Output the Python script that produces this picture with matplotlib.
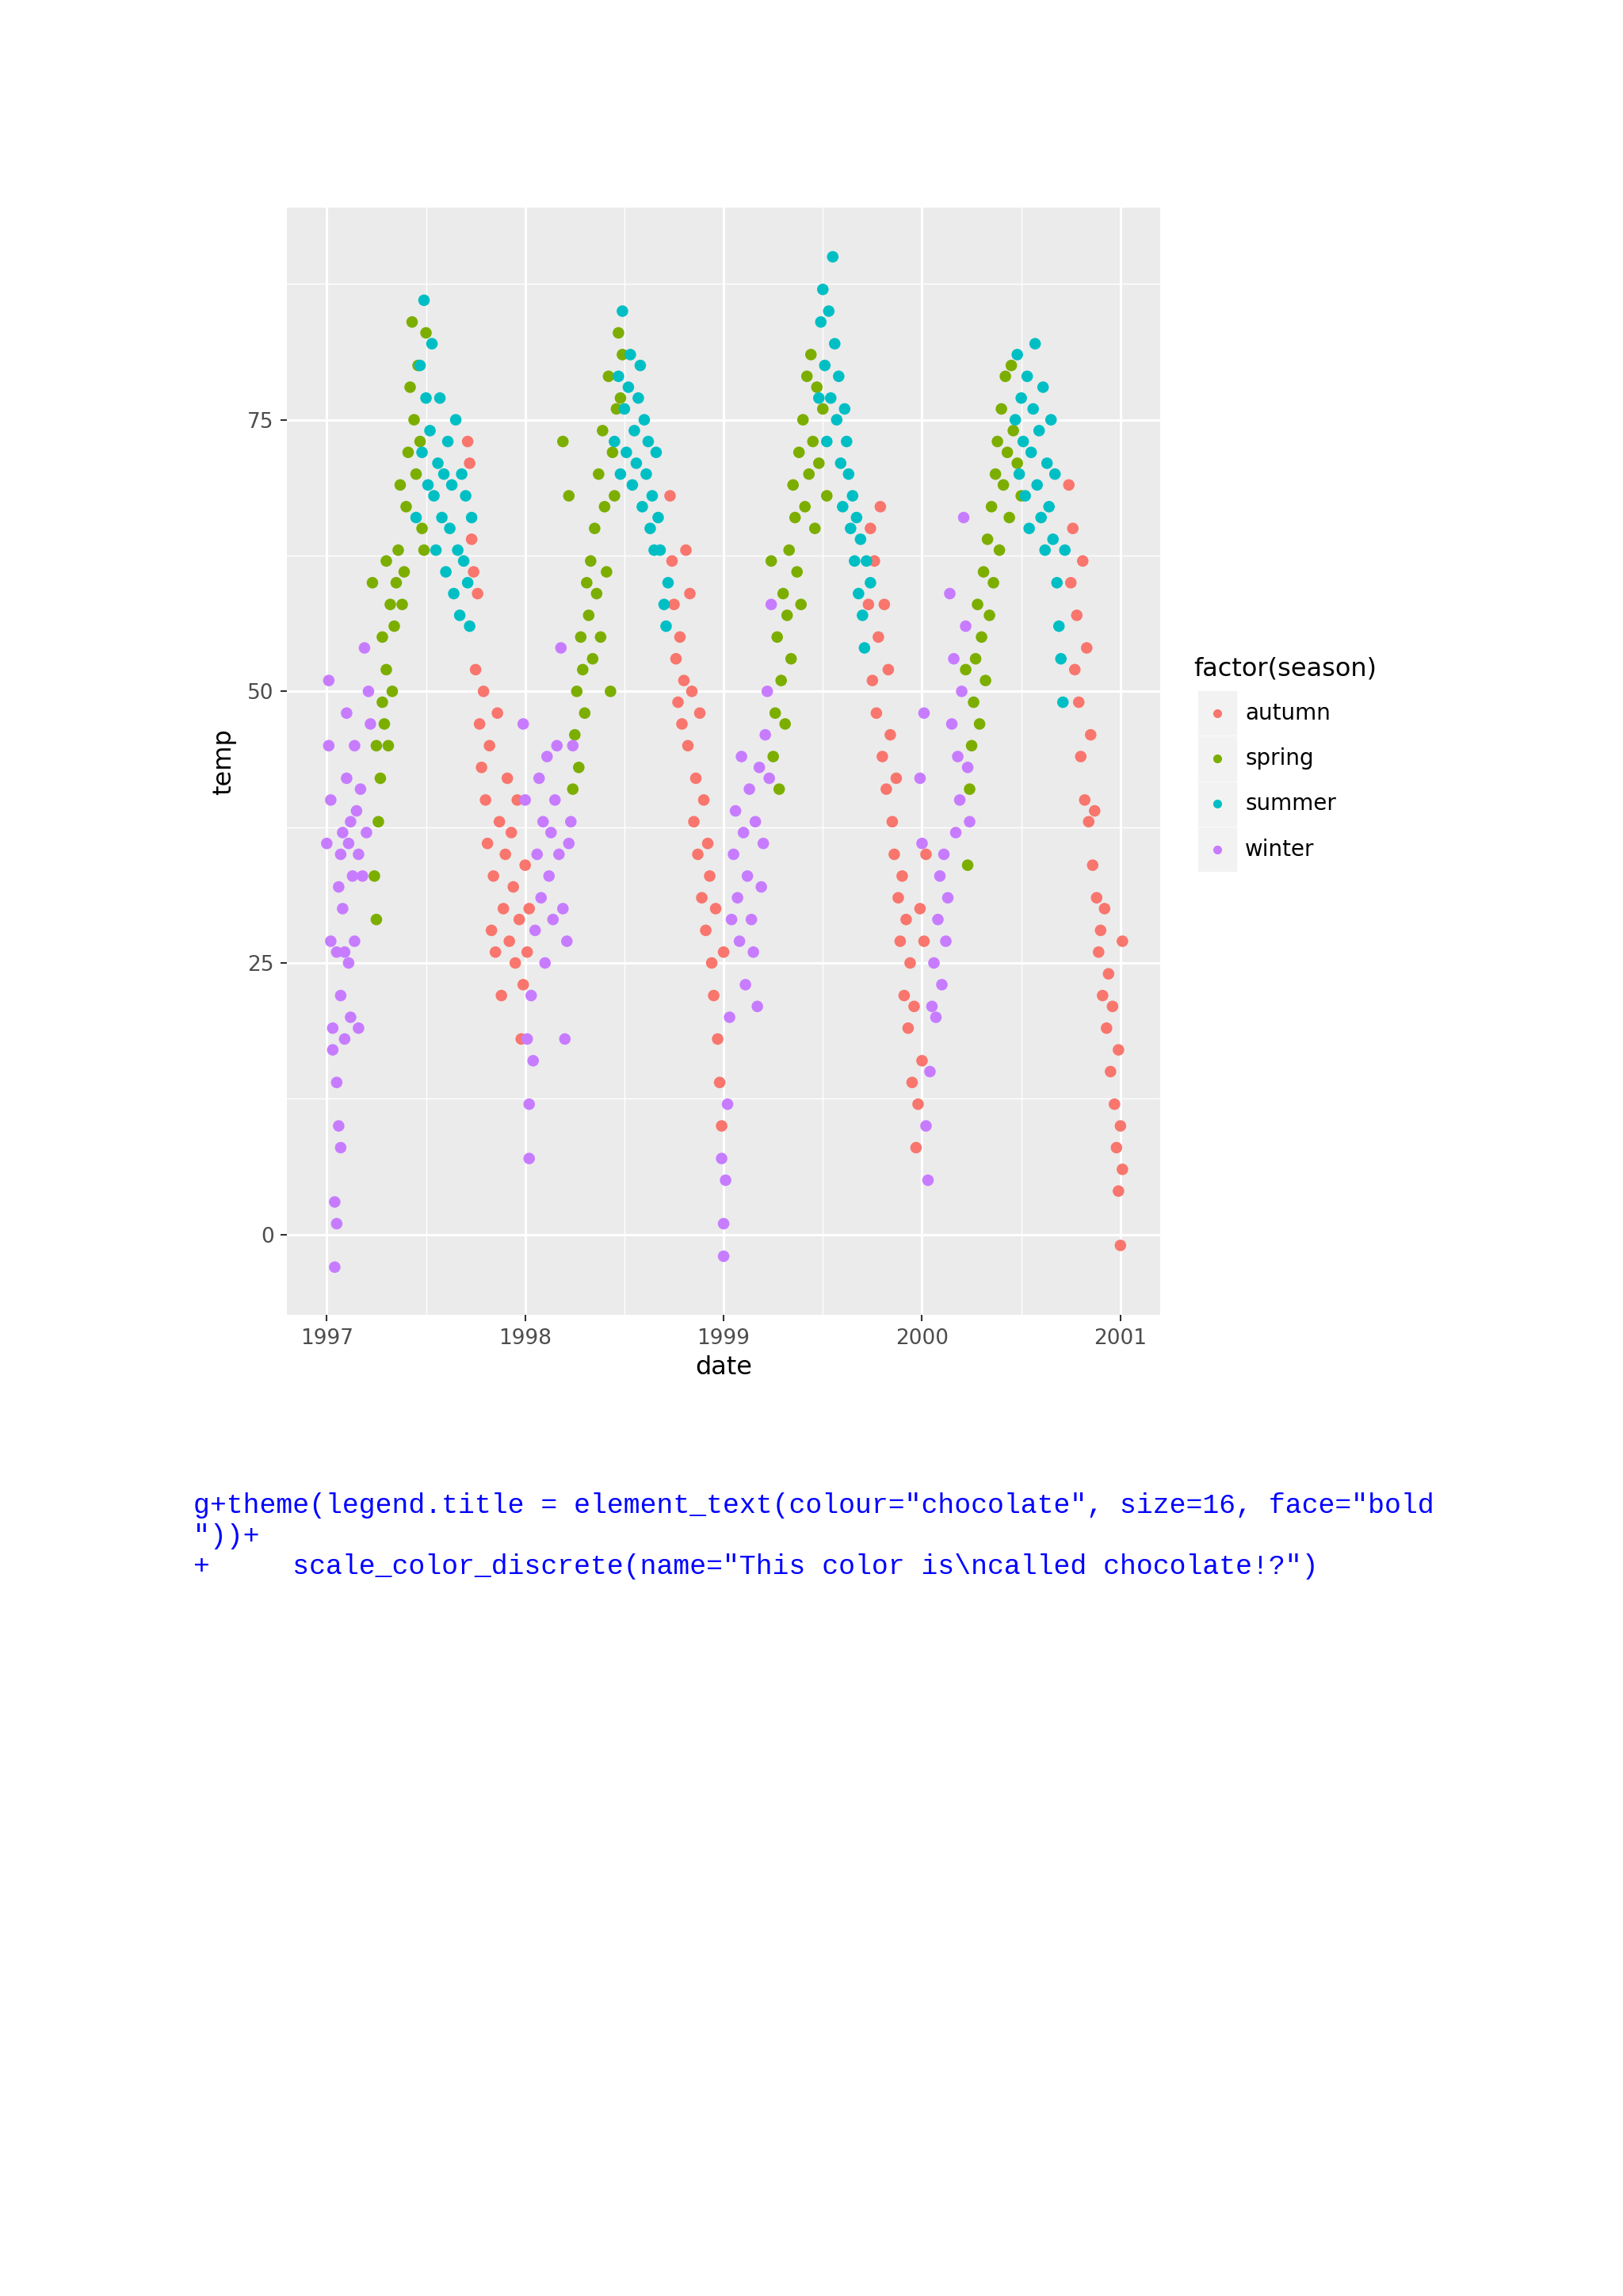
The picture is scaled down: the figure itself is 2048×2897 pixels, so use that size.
import matplotlib
matplotlib.use("Agg")
import matplotlib.pyplot as plt
import numpy as np

# ---- data (decimal year, temp) ----
winter_x = [1997.00,1997.01,1997.01,1997.02,1997.02,1997.03,1997.03,1997.04,1997.04,1997.05,1997.05,1997.05,1997.06,1997.06,1997.07,1997.07,1997.07,1997.08,1997.08,1997.09,1997.09,1997.10,1997.10,1997.11,1997.11,1997.12,1997.12,1997.13,1997.14,1997.14,1997.15,1997.16,1997.16,1997.17,1997.18,1997.19,1997.20,1997.21,1997.22,
            1997.99,1998.00,1998.01,1998.02,1998.02,1998.03,1998.04,1998.05,1998.06,1998.07,1998.08,1998.09,1998.10,1998.11,1998.12,1998.13,1998.14,1998.15,1998.16,1998.17,1998.18,1998.19,1998.20,1998.21,1998.22,1998.23,1998.24,
            1998.99,1999.00,1999.00,1999.01,1999.02,1999.03,1999.04,1999.05,1999.06,1999.07,1999.08,1999.09,1999.10,1999.11,1999.12,1999.13,1999.14,1999.15,1999.16,1999.17,1999.18,1999.19,1999.20,1999.21,1999.22,1999.23,1999.24,
            1999.99,2000.00,2000.01,2000.02,2000.03,2000.04,2000.05,2000.06,2000.07,2000.08,2000.09,2000.10,2000.11,2000.12,2000.13,2000.14,2000.15,2000.16,2000.17,2000.18,2000.19,2000.20,2000.21,2000.22,2000.23,2000.24]
winter_y = [36,45,51,27,40,19,17,3,-3,1,14,26,32,10,8,22,35,30,37,26,18,42,48,25,36,20,38,33,45,27,39,19,35,41,33,54,37,50,47,
            47,40,18,7,12,22,16,28,35,42,31,38,25,44,33,37,29,40,45,35,54,30,18,27,36,38,45,
            7,1,-2,5,12,20,29,35,39,31,27,44,37,23,33,41,29,26,38,21,43,32,36,46,50,42,58,
            42,36,48,10,5,15,21,25,20,29,33,23,35,27,31,59,47,53,37,44,40,50,66,56,43,38]

spring_x = [1997.23,1997.24,1997.25,1997.25,1997.26,1997.27,1997.28,1997.28,1997.29,1997.30,1997.30,1997.31,1997.32,1997.33,1997.34,1997.35,1997.36,1997.37,1997.38,1997.39,1997.40,1997.41,1997.42,1997.43,1997.44,1997.45,1997.46,1997.47,1997.48,1997.49,1997.50,
            1998.19,1998.22,1998.24,1998.25,1998.26,1998.27,1998.28,1998.29,1998.30,1998.31,1998.32,1998.33,1998.34,1998.35,1998.36,1998.37,1998.38,1998.39,1998.40,1998.41,1998.42,1998.43,1998.44,1998.45,1998.46,1998.47,1998.48,1998.49,
            1999.24,1999.25,1999.26,1999.27,1999.28,1999.29,1999.30,1999.31,1999.32,1999.33,1999.34,1999.35,1999.36,1999.37,1999.38,1999.39,1999.40,1999.41,1999.42,1999.43,1999.44,1999.45,1999.46,1999.47,1999.48,1999.50,1999.52,
            2000.22,2000.23,2000.24,2000.25,2000.26,2000.27,2000.28,2000.29,2000.30,2000.31,2000.32,2000.33,2000.34,2000.35,2000.36,2000.37,2000.38,2000.39,2000.40,2000.41,2000.42,2000.43,2000.44,2000.45,2000.46,2000.48,2000.50]
spring_y = [60,33,29,45,38,42,49,55,47,52,62,45,58,50,56,60,63,69,58,61,67,72,78,84,75,70,80,73,65,63,83,
            73,68,41,46,50,43,55,52,48,60,57,62,53,65,59,70,55,74,67,61,79,50,72,68,76,83,77,81,
            62,44,48,55,41,51,59,47,57,63,53,69,66,61,72,58,75,67,79,70,81,73,65,78,71,76,68,
            52,34,41,45,49,53,58,47,55,61,51,64,57,67,60,70,73,63,76,69,79,72,66,80,74,71,68]

summer_x = [1997.45,1997.47,1997.48,1997.49,1997.50,1997.51,1997.52,1997.53,1997.54,1997.55,1997.56,1997.57,1997.58,1997.59,1997.60,1997.61,1997.62,1997.63,1997.64,1997.65,1997.66,1997.67,1997.68,1997.69,1997.70,1997.71,1997.72,1997.73,
            1998.45,1998.47,1998.48,1998.49,1998.50,1998.51,1998.52,1998.53,1998.54,1998.55,1998.56,1998.57,1998.58,1998.59,1998.60,1998.61,1998.62,1998.63,1998.64,1998.65,1998.66,1998.67,1998.68,1998.70,1998.71,1998.72,
            1999.48,1999.49,1999.50,1999.51,1999.52,1999.53,1999.54,1999.55,1999.56,1999.57,1999.58,1999.59,1999.60,1999.61,1999.62,1999.63,1999.64,1999.65,1999.66,1999.67,1999.68,1999.69,1999.70,1999.71,1999.72,1999.74,
            2000.47,2000.48,2000.49,2000.50,2000.51,2000.52,2000.53,2000.54,2000.55,2000.56,2000.57,2000.58,2000.59,2000.60,2000.61,2000.62,2000.63,2000.64,2000.65,2000.66,2000.67,2000.68,2000.69,2000.70,2000.71,2000.72]
summer_y = [66,80,72,86,77,69,74,82,68,63,71,77,66,70,61,73,65,69,59,75,63,57,70,62,68,60,56,66,
            73,79,70,85,76,72,78,81,69,74,71,77,80,67,75,70,73,65,68,63,72,66,63,58,56,60,
            77,84,87,80,73,85,77,90,82,75,79,71,67,76,73,70,65,68,62,66,59,64,57,54,62,60,
            75,81,70,77,73,68,79,65,72,76,82,69,74,66,78,63,71,67,75,64,70,60,56,53,49,63]

autumn_x = [1997.71,1997.72,1997.73,1997.74,1997.75,1997.76,1997.77,1997.78,1997.79,1997.80,1997.81,1997.82,1997.83,1997.84,1997.85,1997.86,1997.87,1997.88,1997.89,1997.90,1997.91,1997.92,1997.93,1997.94,1997.95,1997.96,1997.97,1997.98,1997.99,1998.00,1998.01,1998.02,
            1998.73,1998.74,1998.75,1998.76,1998.77,1998.78,1998.79,1998.80,1998.81,1998.82,1998.83,1998.84,1998.85,1998.86,1998.87,1998.88,1998.89,1998.90,1998.91,1998.92,1998.93,1998.94,1998.95,1998.96,1998.97,1998.98,1998.99,1999.00,
            1999.73,1999.74,1999.75,1999.76,1999.77,1999.78,1999.79,1999.80,1999.81,1999.82,1999.83,1999.84,1999.85,1999.86,1999.87,1999.88,1999.89,1999.90,1999.91,1999.92,1999.93,1999.94,1999.95,1999.96,1999.97,1999.98,1999.99,2000.00,2000.01,2000.02,
            2000.74,2000.75,2000.76,2000.77,2000.78,2000.79,2000.80,2000.81,2000.82,2000.83,2000.84,2000.85,2000.86,2000.87,2000.88,2000.89,2000.90,2000.91,2000.92,2000.93,2000.94,2000.95,2000.96,2000.97,2000.98,2000.99,2000.99,2001.00,2001.00,2001.01,2001.01]
autumn_y = [73,71,64,61,52,59,47,43,50,40,36,45,28,33,26,48,38,22,30,35,42,27,37,32,25,40,29,18,23,34,26,30,
            68,62,58,53,49,55,47,51,63,45,59,50,38,42,35,48,31,40,28,36,33,25,22,30,18,14,10,26,
            58,65,51,62,48,55,67,44,58,41,52,46,38,35,42,31,27,33,22,29,19,25,14,21,8,12,30,16,27,35,
            69,60,65,52,57,49,44,62,40,54,38,46,34,39,31,26,28,22,30,19,24,15,21,12,8,4,17,10,-1,27,6]

seasons = ["autumn", "spring", "summer", "winter"]
colors = ["#F8766D", "#7CAE00", "#00BFC4", "#C77CFF"]
x_ticks = [1997, 1998, 1999, 2000, 2001]
y_ticks = [0, 25, 50, 75]

series = {"autumn": (autumn_x, autumn_y), "spring": (spring_x, spring_y),
          "summer": (summer_x, summer_y), "winter": (winter_x, winter_y)}

W, H = 1108, 1568
fig = plt.figure(figsize=(20.48, 28.97), dpi=100)
ax = fig.add_axes([196/W, 1-898/H, (792-196)/W, (898-142)/H])
ax.set_facecolor("#EBEBEB")
for sp in ax.spines.values():
    sp.set_visible(False)

for s, c in zip(seasons, colors):
    xs, ys = series[s]
    ax.scatter(xs, ys, s=110, color=c, edgecolors="none", zorder=3)

ax.set_xticks(x_ticks)
ax.set_xticklabels([str(t) for t in x_ticks])
ax.set_yticks(y_ticks)
ax.set_xticks([1997.5, 1998.5, 1999.5, 2000.5], minor=True)
ax.set_yticks([12.5, 37.5, 62.5, 87.5], minor=True)
ax.set_xlim(1996.8, 2001.2)
ax.set_ylim(-7.4, 94.5)
ax.grid(which="major", color="white", linewidth=2.2)
ax.grid(which="minor", color="white", linewidth=1.0)
ax.set_axisbelow(True)
ax.tick_params(which="major", length=6, width=1.5, color="#333333",
               labelsize=19, labelcolor="#4D4D4D", pad=6)
ax.tick_params(which="minor", length=0)
ax.set_xlabel("date", fontsize=23, color="black", labelpad=6)
ax.set_ylabel("temp", fontsize=23, color="black", labelpad=10)

# legend
fig.text(815/W, 1-457/H, "factor(season)", fontsize=23, va="center", ha="left")
for i, (s, c) in enumerate(zip(seasons, colors)):
    yc = 487 + 31*i
    fig.patches.append(plt.Rectangle((818/W, 1-(yc+15)/H), 26/W, 30/H,
                                     transform=fig.transFigure, color="#F2F2F2"))
    fig.lines.append(plt.Line2D([831/W], [1-yc/H], marker="o", markersize=8,
                                color=c, markeredgecolor="none", transform=fig.transFigure))
    fig.text(850/W, 1-yc/H, s, fontsize=20, va="center", ha="left")

code = ['g+theme(legend.title = element_text(colour="chocolate", size=16, face="bold',
        '"))+',
        '+     scale_color_discrete(name="This color is\\ncalled chocolate!?")']
for i, line in enumerate(code):
    fig.text(132/W, 1-(1028 + 21*i)/H, line, fontsize=25, family="Liberation Mono",
             color="#0000FF", va="center", ha="left")

fig.savefig("out.png", dpi=100, facecolor="white")
